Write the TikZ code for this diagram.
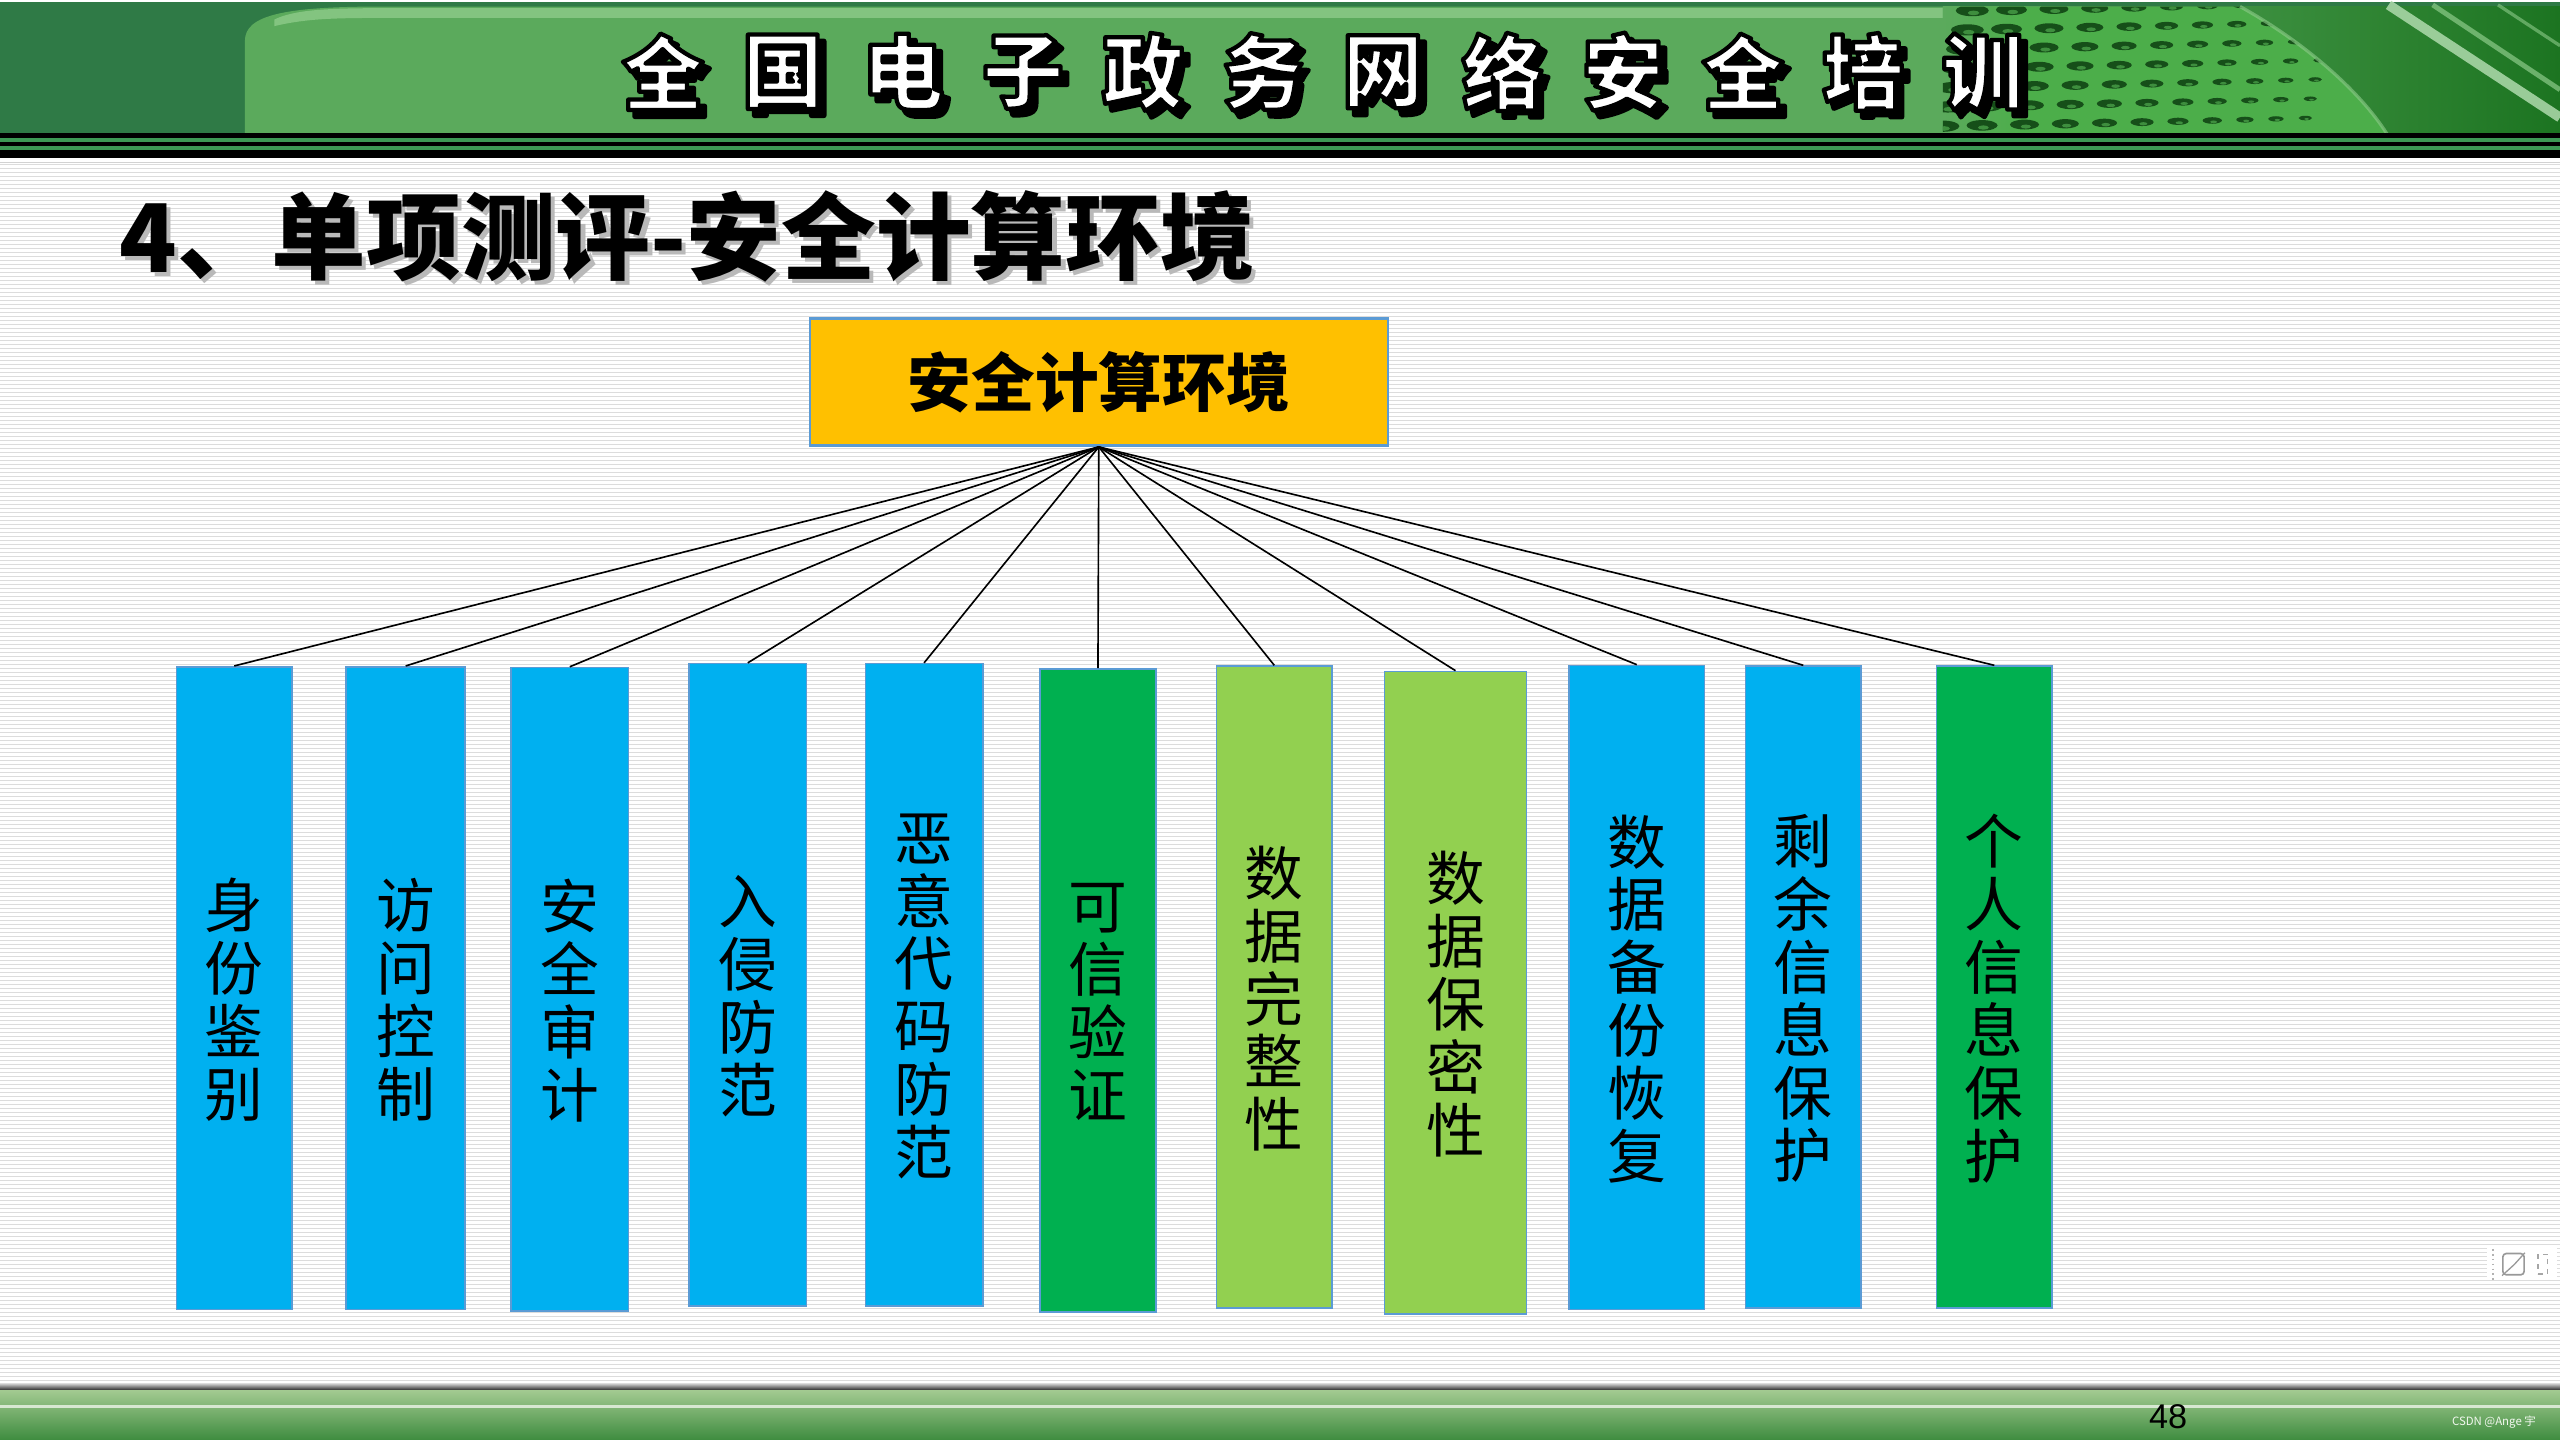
\documentclass[tikz,border=0pt]{standalone}
\usepackage{fontspec}
\newfontfamily\cjk{Noto Sans CJK SC}
\newfontfamily\lib{Liberation Sans}
\definecolor{colblue}{HTML}{00B0F0}
\definecolor{colgreen}{HTML}{00B050}
\definecolor{collgreen}{HTML}{92D050}
\definecolor{boxedge}{HTML}{5B9BD5}
\definecolor{topfill}{HTML}{FFC000}
\definecolor{hdrdark}{HTML}{2F7A46}
\definecolor{hdrmain}{HTML}{5BAA5C}
\definecolor{hdrlight}{HTML}{8DCB8A}
\definecolor{hdrdeep}{HTML}{1C7421}
\definecolor{perfbase}{HTML}{4CAE4A}
\definecolor{holecol}{HTML}{164F19}
\definecolor{holelight}{HTML}{3E8E3E}
\definecolor{stripegreen}{HTML}{3D9A55}
\definecolor{footlight}{HTML}{A3CA91}
\definecolor{footdark}{HTML}{3E8C3F}
\definecolor{bgline}{HTML}{DCDCDC}
% outlined glyphs: fill + black stroke
\newcommand\strokedtext[2]{\special{pdf:literal direct 2 Tr #1 w 1 j 0 0 0 RG}#2\special{pdf:literal direct 0 Tr 1 w}}
\newcommand\shadowglyph[1]{\rlap{\kern4pt\raisebox{-4pt}{\color{black}\strokedtext{3}{#1}}}\strokedtext{2.6}{#1}}
\newcommand\shadowtitle[1]{\rlap{\kern2.5pt\raisebox{-2.5pt}{\color{gray!55}#1}}#1}
\tikzset{
  colbox/.style={draw=boxedge, line width=1pt, inner sep=0pt},
  coltext/.style={font=\cjk\fontsize{36}{38.5}\selectfont, align=center, inner sep=0pt, text=black},
  topbox/.style={draw=boxedge, line width=1.5pt, fill=topfill, inner sep=0pt,
    minimum width=354pt, minimum height=78pt, font=\cjk\bfseries\fontsize{39}{40}\selectfont},
  conn/.style={draw=black, line width=1pt},
  hchar/.style={font=\cjk\bfseries\fontsize{50}{52}\selectfont, inner sep=0pt},
  titletext/.style={font=\cjk\bfseries\fontsize{58}{62}\selectfont, inner sep=0pt, anchor=west}
}
\begin{document}
\begin{tikzpicture}[x=1pt,y=-1pt]
\useasboundingbox (0,0) rectangle (1568,882);
% page background
\fill[white] (0,0) rectangle (1568,882);
\foreach \i in {0,...,305} {
  \draw[bgline, line width=0.6pt] (0,{101+\i*2.45}) -- (1568,{101+\i*2.45});
}
% ---------- header banner ----------
\fill[hdrdark] (0,1) rectangle (1568,82);
\fill[hdrmain] (150,82) -- (150,25) .. controls (150,9) and (175,4) .. (235,4) -- (1568,4) -- (1568,82) -- cycle;
\fill[hdrlight, opacity=0.8] (168,12) .. controls (180,6) and (200,5) .. (235,5) -- (1200,5) -- (1200,11) -- (230,11) .. controls (200,11) and (185,12) .. (168,16) -- cycle;
\shade[left color=hdrmain, right color=hdrdeep] (1190,4) rectangle (1568,82);
\begin{scope}
  \clip (1190,4) -- (1372,4) .. controls (1410,25) and (1445,55) .. (1462,82) -- (1190,82) -- cycle;
  \shade[left color=hdrmain, right color=perfbase] (1190,4) rectangle (1240,82);
  \fill[perfbase] (1240,4) rectangle (1470,82);
  \foreach \i/\xo in {-1/1208,0/1232,1/1258,2/1283,3/1307,4/1330,5/1352,6/1373,7/1393,8/1412,9/1430} {
    \foreach \j in {0,...,8} {
      \pgfmathsetmacro\hx{\xo-3*\j}
      \pgfmathsetmacro\hy{6+11.8*\j-0.5*\i}
      \pgfmathsetmacro\hr{9.5-0.6*\i}
      \fill[holecol] (\hx,\hy) ellipse ({\hr} and {\hr*0.34});
      \fill[holelight] (\hx+0.8,\hy+\hr*0.14) ellipse ({\hr*0.35} and {\hr*0.14});
    }
  }
\end{scope}
\draw[hdrlight, line width=2pt, opacity=0.6] (1372,4) .. controls (1410,25) and (1445,55) .. (1462,82);
\draw[hdrlight!70!white, line width=6pt, opacity=0.85] (1463,3) -- (1568,72);
\draw[hdrlight, line width=3pt, opacity=0.7] (1490,3) -- (1568,55);
\draw[hdrlight, line width=2pt, opacity=0.6] (1530,3) -- (1568,28);
% black stripes
\fill[black] (0,81.6) rectangle (1568,97);
\fill[stripegreen] (0,84.7) rectangle (1568,86.7);
\fill[stripegreen] (0,89.2) rectangle (1568,91.6);
\draw[gray!35, line width=1pt] (0,99.5) -- (1568,99.5);
% header title characters: white glyphs with black outline and black shadow
\foreach \ch [count=\k from 0] in {全,国,电,子,政,务,网,络,安,全,培,训} {
  \pgfmathsetmacro\xx{406+73.5*\k}
  \node[hchar, text=white] (h\k) at (\xx,46) {\shadowglyph{\ch}};
}
% ---------- slide title ----------
\node[titletext, text=black] (title) at (73,146) {\shadowtitle{4、单项测评-安全计算环境}};
% ---------- top box ----------
\node[topbox] (top) at (673,234) {安全计算环境};
% ---------- columns ----------
\foreach \nm/\cx/\cy/\w/\h/\col/\txt in {
  1/143.5/605.25/71/393.7/colblue/{身\\份\\鉴\\别},
  2/248.5/605.25/73/393.7/colblue/{访\\问\\控\\制},
  3/349/605.95/72/394.1/colblue/{安\\全\\审\\计},
  4/458/603.25/72/393.5/colblue/{入\\侵\\防\\范},
  5/566/603.25/72/393.5/colblue/{恶\\意\\代\\码\\防\\范},
  6/672.5/606.65/71/393.7/colgreen/{可\\信\\验\\证},
  7/780.5/604.65/71/393.3/collgreen/{数\\据\\完\\整\\性},
  8/891.5/608.05/87/393.5/collgreen/{数\\据\\保\\密\\性},
  9/1002.5/604.8/83/394.4/colblue/{数\\据\\备\\份\\恢\\复},
  10/1104.5/604.65/71/393.3/colblue/{剩\\余\\信\\息\\保\\护},
  11/1221.5/604.65/71/393.3/colgreen/{个\\人\\信\\息\\保\\护}} {
  \node[colbox, fill=\col, minimum width=\w pt, minimum height=\h pt] (c\nm) at (\cx,\cy) {};
  \node[coltext] (t\nm) at ([yshift=-7pt]c\nm.center) {\txt};
  \draw[conn] (top.south) -- (c\nm.north);
}
% ---------- small UI icons ----------
\fill[white] (1523,762.5) rectangle (1566,784);
\draw[gray!60, line width=1pt, dotted] (1527,765) -- (1527,784);
\node[draw=gray!80, line width=1pt, rounded corners=2pt, minimum size=13pt, inner sep=0pt] (ic1) at (1539.5,774.3) {};
\draw[gray!80, line width=0.8pt] (ic1.south west) -- (1540,774.5) -- (ic1.north east);
\node[draw=gray!70, line width=0.8pt, dashed, minimum width=6pt, minimum height=12pt, inner sep=0pt] (ic2) at (1557.5,774.3) {};
% ---------- footer ----------
\shade[top color=gray!40, bottom color=black!85] (0,847.5) rectangle (1568,851.5);
\shade[top color=footlight, bottom color=footdark] (0,851.5) rectangle (1568,882);
\draw[white!80!footlight, line width=1.3pt, opacity=0.8] (0,861.5) -- (1568,861.5);
\node[font=\lib\fontsize{21}{22}\selectfont, inner sep=0pt, text=black] (pg) at (1328,868) {48};
\node[font=\cjk\fontsize{7}{8}\selectfont, inner sep=0pt, text=white!85!footlight] (wm) at (1527.5,871.2) {CSDN @Ange 宇};
\end{tikzpicture}
\end{document}
